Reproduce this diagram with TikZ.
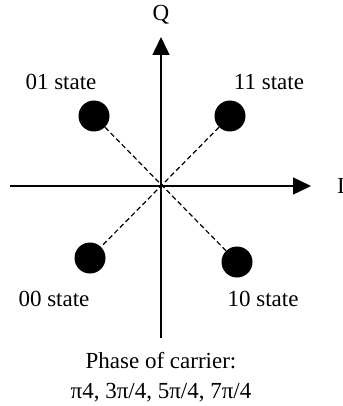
\documentclass[tikz,border=0pt]{standalone}
\usepackage{fontspec}
\setmainfont{Liberation Serif}
\usetikzlibrary{arrows.meta,positioning}

\begin{document}
\begin{tikzpicture}[x=1pt, y=-1pt,
        axis/.style={line width=1.5pt, -{Triangle[length=18pt, width=17pt]}},
        symb/.style={circle, fill=black, minimum size=31pt, inner sep=0pt},
        link/.style={line width=1.2pt, dash pattern=on 5pt off 3pt},
        lbl/.style={font=\fontsize{23}{30}\selectfont, inner sep=0pt, align=center}]

        \useasboundingbox (0, 0) rectangle (342, 406);

        % origin and axis ends
        \coordinate (o) at (161, 186);
        \coordinate (ileft) at (10, 186);
        \coordinate (iright) at (311, 186);
        \coordinate (qbot) at (161, 338);
        \coordinate (qtop) at (161, 37);

        % axes
        \draw[axis] (ileft) -- (iright);
        \draw[axis] (qbot) -- (qtop);

        % axis labels
        \node[lbl] (qlbl) at (161, 15) {Q};
        \node[lbl, anchor=west] (ilbl) at (337, 186) {I};

        % constellation points
        \node[symb] (s01) at (94, 116) {};
        \node[symb] (s11) at (230, 116) {};
        \node[symb] (s00) at (90, 258) {};
        \node[symb] (s10) at (237, 262) {};

        % dashed phase lines
        \draw[link] (s01) -- (s10);
        \draw[link] (s11) -- (s00);

        % state labels
        \node[lbl] (l01) at (61, 82) {01 state};
        \node[lbl] (l11) at (269, 82) {11 state};
        \node[lbl] (l00) at (54, 299) {00 state};
        \node[lbl] (l10) at (263, 299) {10 state};

        % caption below the axis
        \node[lbl] (phase) at (161, 377)
            {Phase of carrier:\\π4, 3π/4, 5π/4, 7π/4};

    \end{tikzpicture}
\end{document}
